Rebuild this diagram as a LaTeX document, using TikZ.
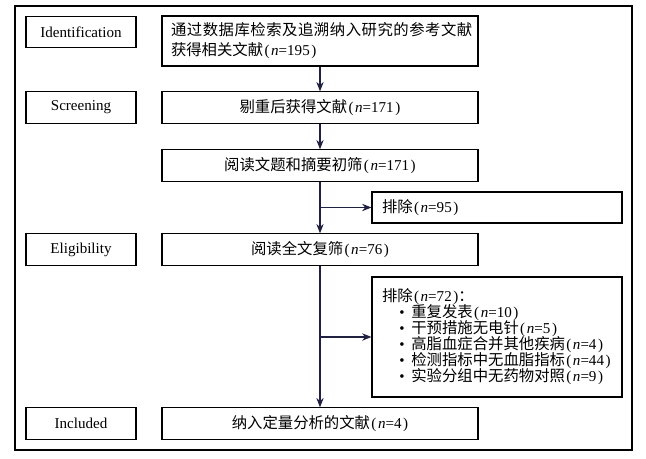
\documentclass[tikz,border=0pt]{standalone}
\usepackage{fontspec}
\setmainfont{Liberation Serif}
\newfontfamily\cjk[Scale=1.02]{Noto Sans CJK SC}
\usetikzlibrary{arrows.meta}
\newcommand\zh[1]{{\cjk #1}}
\newcommand\nval[1]{\kern1pt(\kern1.2pt\textit{n}=#1\kern1.2pt)}
\newcommand\tightls{\lineskiplimit=-6pt\relax}
\definecolor{arrowc}{HTML}{202040}
\begin{document}
\begin{tikzpicture}[x=0.75pt,y=-0.75pt,
  every node/.style={font=\fontsize{11.3}{15}\selectfont},
  box/.style={draw=black,line width=0.8pt,inner sep=0pt,align=center},
  lab/.style={box,minimum width=82.5pt,minimum height=23.5pt},
  mainbox/.style={box,minimum width=237pt,minimum height=23.5pt},
  exbox/.style={box,minimum width=187.5pt,align=left,text width=172.5pt,inner xsep=7.5pt},
  flow/.style={draw=arrowc,line width=0.9pt,-{Stealth[length=7pt,width=5.5pt]}}]
\useasboundingbox (0,0) rectangle (646,458);
\draw[line width=0.8pt] (15,6) rectangle (632,450);

\node[lab] (id) at (81,32) {Identification};
\node[lab] (scr) at (81,107.5) {Screening};
\node[lab] (elig) at (81,249.5) {Eligibility};
\node[lab] (inc) at (81,423.5) {Included};

\node[box,minimum width=237pt,minimum height=37.5pt,text width=223.5pt,align=left,inner xsep=6.75pt] (top) at (320,41)
  {\makebox[226pt][s]{\cjk 通\hfil 过\hfil 数\hfil 据\hfil 库\hfil 检\hfil 索\hfil 及\hfil 追\hfil 溯\hfil 纳\hfil 入\hfil 研\hfil 究\hfil 的\hfil 参\hfil 考\hfil 文\hfil 献}\\\zh{获得相关文献}\nval{195}};
\node[mainbox] (dup) at (320,107.5) {\zh{剔重后获得文献}\nval{171}};
\node[mainbox] (read1) at (320,165.5) {\zh{阅读文题和摘要初筛}\nval{171}};
\node[mainbox] (read2) at (320,249.5) {\zh{阅读全文复筛}\nval{76}};
\node[mainbox] (final) at (320,423.5) {\zh{纳入定量分析的文献}\nval{4}};

\node[exbox,minimum height=23.25pt] (ex1) at (497,207.5) {\zh{排除}\nval{95}};
\node[exbox,minimum height=90pt,font=\fontsize{11.3}{12}\selectfont\tightls] (ex2) at (497,337)
  {\zh{排除}\nval{72}\zh{：}\\
   \hspace*{13pt}\makebox[9pt][l]{\textbullet}\zh{重复发表}\nval{10}\\
   \hspace*{13pt}\makebox[9pt][l]{\textbullet}\zh{干预措施无电针}\nval{5}\\
   \hspace*{13pt}\makebox[9pt][l]{\textbullet}\zh{高脂血症合并其他疾病}\nval{4}\\
   \hspace*{13pt}\makebox[9pt][l]{\textbullet}\zh{检测指标中无血脂指标}\nval{44}\\
   \hspace*{13pt}\makebox[9pt][l]{\textbullet}\zh{实验分组中无药物对照}\nval{9}\\[7pt]};

\draw[flow] (top) -- (dup);
\draw[flow] (dup) -- (read1);
\draw[flow] (read1) -- (read2);
\draw[flow] (read2) -- (final);
\draw[flow] (read1.south |- ex1.west) -- (ex1.west);
\draw[flow] (read2.south |- ex2.west) -- (ex2.west);
\end{tikzpicture}
\end{document}
